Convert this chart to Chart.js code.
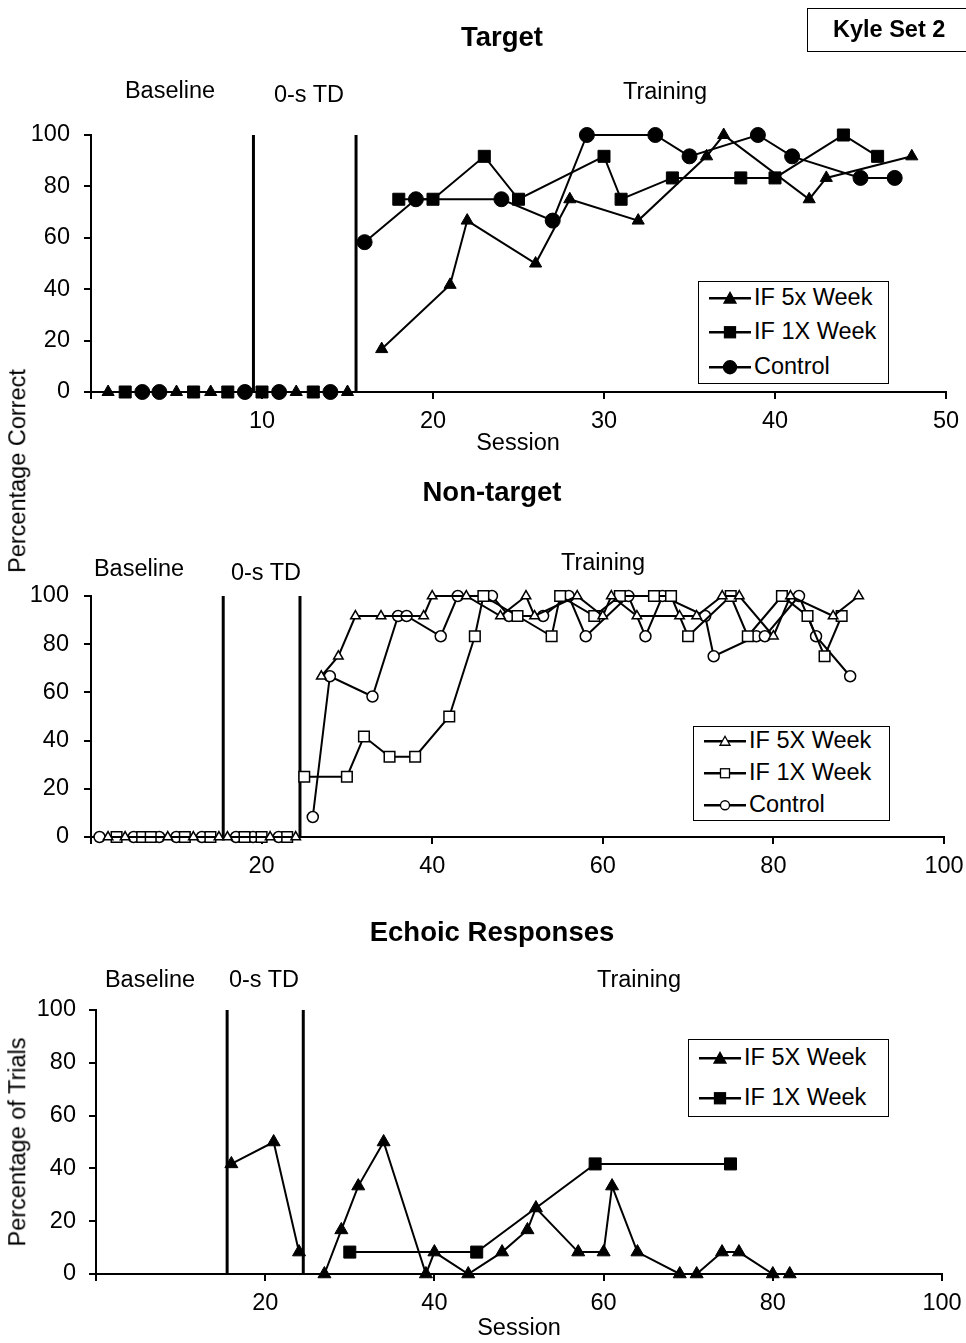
<!DOCTYPE html>
<html>
<head>
<meta charset="utf-8">
<script src="https://cdn.jsdelivr.net/npm/chart.js@4"></script>
<style>
  body { margin: 0; background: #fff; }
  #page { position: relative; width: 966px; height: 1343px; overflow: hidden; font-family: "Liberation Sans", Arial, sans-serif; color: #000; }
  canvas { position: absolute; left: 0; }
  .txt { position: absolute; white-space: nowrap; transform: translate(-50%, -50%); font-size: 23.5px; line-height: 1; }
  .title { font-weight: bold; font-size: 27.5px; }
  .legend { position: absolute; border: 1.5px solid #000; background: #fff; box-sizing: border-box; }
  .legend .row { position: absolute; left: 10px; display: flex; align-items: center; font-size: 23.5px; line-height: 1; transform: translateY(-50%); }
  .legend svg { margin-right: 3px; }
</style>
</head>
<body>
<div id="page">
  <canvas id="c1" width="966" height="460" style="top:0"></canvas>
  <canvas id="c2" width="966" height="410" style="top:470px"></canvas>
  <canvas id="c3" width="966" height="463" style="top:880px"></canvas>
</div>
<script>
// Target
const targetPhases = [9.5, 15.5];
const target5xSessions = [1, 5, 7, 12, 15, 17, 21, 22, 26, 28, 32, 36, 37, 42, 43, 48];
const target5xValues = [0, 0, 0, 0, 0, 16.7, 41.7, 66.7, 50, 75, 66.7, 91.7, 100, 75, 83.3, 91.7];
const target1xSessions = [2, 6, 8, 10, 13, 18, 20, 23, 25, 30, 31, 34, 38, 40, 44, 46];
const target1xValues = [0, 0, 0, 0, 0, 75, 75, 91.7, 75, 91.7, 75, 83.3, 83.3, 83.3, 100, 91.7];
const targetCtlSessions = [3, 4, 9, 11, 14, 16, 19, 24, 27, 29, 33, 35, 39, 41, 45, 47];
const targetCtlValues = [0, 0, 0, 0, 0, 58.3, 75, 75, 66.7, 100, 100, 91.7, 100, 91.7, 83.3, 83.3];
const targetTicks = [10, 20, 30, 40, 50];

// Non-target
const ntPhases = [15.5, 24.5];
const nt5xSessions = [2, 4, 9, 12, 15, 16, 21, 24, 27, 29, 31, 34, 39, 40, 44, 48, 51, 52, 57, 60, 61, 64, 69, 71, 74, 76, 80, 82, 87, 90];
const nt5xValues = [0, 0, 0, 0, 0, 0, 0, 0, 66.7, 75, 91.7, 91.7, 91.7, 100, 100, 91.7, 100, 91.7, 100, 91.7, 100, 91.7, 91.7, 91.7, 100, 100, 83.3, 100, 91.7, 100];
const nt1xSessions = [3, 6, 7, 11, 14, 18, 20, 23, 25, 30, 32, 35, 38, 42, 45, 46, 50, 54, 55, 59, 62, 66, 68, 70, 75, 77, 81, 84, 86, 88];
const nt1xValues = [0, 0, 0, 0, 0, 0, 0, 0, 25, 25, 41.7, 33.3, 33.3, 50, 83.3, 100, 91.7, 83.3, 100, 91.7, 100, 100, 100, 83.3, 100, 83.3, 100, 91.7, 75, 91.7];
const ntCtlSessions = [1, 5, 8, 10, 13, 17, 19, 22, 26, 28, 33, 36, 37, 41, 43, 47, 49, 53, 56, 58, 63, 65, 67, 72, 73, 78, 79, 83, 85, 89];
const ntCtlValues = [0, 0, 0, 0, 0, 0, 0, 0, 8.3, 66.7, 58.3, 91.7, 91.7, 83.3, 100, 100, 91.7, 91.7, 100, 83.3, 100, 83.3, 100, 91.7, 75, 83.3, 83.3, 100, 83.3, 66.7];
const ntTicks = [20, 40, 60, 80, 100];

// Echoic responses
const echPhases = [15.5, 24.5];
const ech5xSessions = [16, 21, 24, 27, 29, 31, 34, 39, 40, 44, 48, 51, 52, 57, 60, 61, 64, 69, 71, 74, 76, 80, 82];
const ech5xValues = [41.7, 50, 8.3, 0, 16.7, 33.3, 50, 0, 8.3, 0, 8.3, 16.7, 25, 8.3, 8.3, 33.3, 8.3, 0, 0, 8.3, 8.3, 0, 0];
const ech1xSessions = [30, 45, 59, 75];
const ech1xValues = [8.3, 8.3, 41.7, 41.7];
const echTicks = [20, 40, 60, 80, 100];

const yTicks = [0, 20, 40, 60, 80, 100];

Chart.defaults.font.family = '"Liberation Sans", Arial, sans-serif';
Chart.defaults.color = '#000';

// break the line wherever a phase change line sits between two sessions
function toPoints(sessions, values, phases) {
    const pts = [];
    sessions.forEach((s, i) => {
        if (i > 0 && phases.some(p => sessions[i - 1] < p && s > p)) {
            pts.push({ x: (sessions[i - 1] + s) / 2, y: null });
        }
        pts.push({ x: s, y: values[i] });
    });
    return pts;
}

function ds(points, style, radius, filled) {
    return {
        data: points,
        borderColor: '#000',
        borderWidth: 2,
        pointStyle: style,
        pointRadius: radius,
        pointBackgroundColor: filled ? '#000' : '#fff',
        pointBorderColor: '#000',
        pointBorderWidth: filled ? 1 : 1.5,
        tension: 0,
        spanGaps: false,
        clip: false
    };
}

const phaseLines = {
    id: 'phaseLines',
    beforeDatasetsDraw(chart, args, opts) {
        const { ctx, chartArea, scales } = chart;
        ctx.save();
        ctx.strokeStyle = '#000';
        ctx.lineWidth = 3;
        opts.at.forEach(p => {
            const x = scales.x.getPixelForValue(p);
            ctx.beginPath();
            ctx.moveTo(x, chartArea.top);
            ctx.lineTo(x, chartArea.bottom);
            ctx.stroke();
        });
        ctx.restore();
    }
};

function makeChart(id, datasets, cfg) {
    return new Chart(document.getElementById(id), {
        type: 'line',
        data: { datasets },
        plugins: [phaseLines],
        options: {
            responsive: false,
            animation: false,
            devicePixelRatio: 1,
            events: [],
            layout: { padding: { left: 0, right: cfg.right, top: cfg.top, bottom: 0 } },
            plugins: {
                legend: { display: false },
                tooltip: { enabled: false },
                phaseLines: { at: cfg.phases }
            },
            scales: {
                x: {
                    type: 'linear',
                    min: 0,
                    max: cfg.xMax,
                    afterFit: s => { s.height = cfg.xHeight; s.paddingLeft = 0; s.paddingRight = 0; },
                    afterBuildTicks: s => { s.ticks = [0].concat(cfg.xTicks).map(v => ({ value: v })); },
                    ticks: {
                        font: { size: 23.5 },
                        color: '#000',
                        padding: 8,
                        maxRotation: 0,
                        autoSkip: false,
                        callback: v => v === 0 ? '' : v
                    },
                    grid: { drawOnChartArea: false, tickLength: 7, color: '#000', tickColor: '#000', lineWidth: 2 },
                    border: { color: '#000', width: 2 }
                },
                y: {
                    min: 0,
                    max: 100,
                    afterFit: s => { s.width = cfg.yWidth; s.paddingTop = 0; s.paddingBottom = 0; },
                    afterBuildTicks: s => { s.ticks = yTicks.map(v => ({ value: v })); },
                    ticks: { font: { size: 23.5 }, color: '#000', padding: cfg.yPad },
                    grid: { drawOnChartArea: false, tickLength: 7, color: '#000', tickColor: '#000', lineWidth: 2 },
                    border: { color: '#000', width: 2 }
                }
            }
        }
    });
}

makeChart('c1', [
    ds(toPoints(target5xSessions, target5xValues, targetPhases), 'triangle', 7, true),
    ds(toPoints(target1xSessions, target1xValues, targetPhases), 'rect', 8.5, true),
    ds(toPoints(targetCtlSessions, targetCtlValues, targetPhases), 'circle', 7.5, true)
], { xMax: 50, xTicks: targetTicks, phases: targetPhases, top: 135, right: 20, yWidth: 91, xHeight: 68, yPad: 14 });

makeChart('c2', [
    ds(toPoints(nt5xSessions, nt5xValues, ntPhases), 'triangle', 5.5, false),
    ds(toPoints(nt1xSessions, nt1xValues, ntPhases), 'rect', 7.5, false),
    ds(toPoints(ntCtlSessions, ntCtlValues, ntPhases), 'circle', 5.5, false)
], { xMax: 100, xTicks: ntTicks, phases: ntPhases, top: 126, right: 22, yWidth: 91, xHeight: 43, yPad: 15 });

makeChart('c3', [
    ds(toPoints(ech5xSessions, ech5xValues, echPhases), 'triangle', 7.5, true),
    ds(toPoints(ech1xSessions, ech1xValues, echPhases), 'rect', 8.5, true)
], { xMax: 100, xTicks: echTicks, phases: echPhases, top: 130, right: 24, yWidth: 96, xHeight: 69, yPad: 13 });

// text and legends
const page = document.getElementById('page');

function addText(text, cx, cy, cls, extra) {
    const d = document.createElement('div');
    d.className = 'txt' + (cls ? ' ' + cls : '');
    d.textContent = text;
    d.style.left = cx + 'px';
    d.style.top = cy + 'px';
    if (extra) d.style.transform = extra;
    page.appendChild(d);
}

function symbol(shape, filled, size) {
    const fill = filled ? '#000' : '#fff';
    const h = size / 2;
    let mark;
    if (shape === 'triangle') {
        mark = `<polygon points="21,${10 - h} ${21 + h},${10 + h * 0.8} ${21 - h},${10 + h * 0.8}" fill="${fill}" stroke="#000" stroke-width="1.3"/>`;
    } else if (shape === 'rect') {
        mark = `<rect x="${21 - h}" y="${10 - h}" width="${size}" height="${size}" fill="${fill}" stroke="#000" stroke-width="1.3"/>`;
    } else {
        mark = `<circle cx="21" cy="10" r="${h}" fill="${fill}" stroke="#000" stroke-width="1.3"/>`;
    }
    return `<svg width="42" height="20"><line x1="0" y1="10" x2="42" y2="10" stroke="#000" stroke-width="2.5"/>${mark}</svg>`;
}

function addLegend(left, top, w, h, rows) {
    const box = document.createElement('div');
    box.className = 'legend';
    Object.assign(box.style, { left: left + 'px', top: top + 'px', width: w + 'px', height: h + 'px' });
    rows.forEach(r => {
        const row = document.createElement('div');
        row.className = 'row';
        row.style.top = r.cy + 'px';
        row.innerHTML = symbol(r.shape, r.filled, r.size) + '<span>' + r.label + '</span>';
        box.appendChild(row);
    });
    page.appendChild(box);
}

// Kyle Set 2 box
const kyle = document.createElement('div');
Object.assign(kyle.style, {
    position: 'absolute', left: '807px', top: '8px', width: '170px', height: '44px',
    border: '1.5px solid #000', boxSizing: 'border-box', fontWeight: 'bold', fontSize: '23.5px',
    lineHeight: '41px', paddingLeft: '25px'
});
kyle.textContent = 'Kyle Set 2';
page.appendChild(kyle);

// panel 1
addText('Target', 502, 37, 'title');
addText('Baseline', 170, 91);
addText('0-s TD', 309, 95);
addText('Training', 665, 92);
addText('Session', 518, 443);
addLegend(698, 281, 191, 103, [
    { label: 'IF 5x Week', shape: 'triangle', filled: true, size: 12, cy: 16 },
    { label: 'IF 1X Week', shape: 'rect', filled: true, size: 11, cy: 50 },
    { label: 'Control', shape: 'circle', filled: true, size: 13, cy: 85 }
]);

// shared y title for panels 1 and 2
addText('Percentage Correct', 18, 471, '', 'translate(-50%, -50%) rotate(-90deg)');

// panel 2
addText('Non-target', 492, 492, 'title');
addText('Baseline', 139, 569);
addText('0-s TD', 266, 573);
addText('Training', 603, 563);
addLegend(693, 726, 197, 95, [
    { label: 'IF 5X Week', shape: 'triangle', filled: false, size: 10, cy: 14 },
    { label: 'IF 1X Week', shape: 'rect', filled: false, size: 9, cy: 46 },
    { label: 'Control', shape: 'circle', filled: false, size: 9, cy: 78 }
]);

// panel 3
addText('Echoic Responses', 492, 932, 'title');
addText('Baseline', 150, 980);
addText('0-s TD', 264, 980);
addText('Training', 639, 980);
addText('Session', 519, 1328);
addText('Percentage of Trials', 18, 1142, '', 'translate(-50%, -50%) rotate(-90deg)');
addLegend(688, 1039, 201, 78, [
    { label: 'IF 5X Week', shape: 'triangle', filled: true, size: 12, cy: 18 },
    { label: 'IF 1X Week', shape: 'rect', filled: true, size: 11, cy: 58 }
]);
</script>
</body>
</html>
